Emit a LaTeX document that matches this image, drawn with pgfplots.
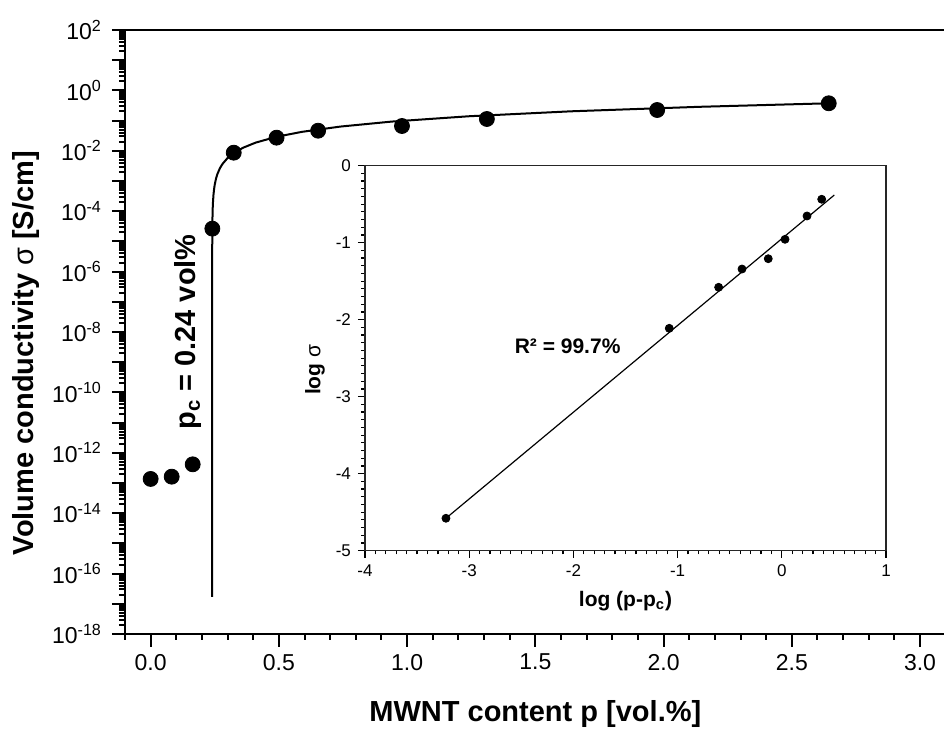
\documentclass[border=0pt]{standalone}
\usepackage{fontspec}
\setmainfont{Liberation Sans}
\usepackage{pgfplots}
\pgfplotsset{compat=1.18}
\gdef\minorlist{2e-18}
\foreach \e in {-18,...,1}{\foreach \m in {2,...,9}{\xdef\minorlist{\minorlist,\m e\e}}}
\begin{document}
\begin{tikzpicture}
\begin{axis}[
  at={(0,0)}, anchor=south west,
  scale only axis, width=410.35pt, height=302pt,
  xmin=-0.1, xmax=3.1,
  ymode=log, ymin=1e-18, ymax=1e2,
  axis line style={line width=1.3pt},
  tick align=outside, tick pos=left,
  major tick length=6.5pt, minor tick length=3pt,
  every tick/.style={black, line width=1pt},
  xtick={0,0.5,1,1.5,2,2.5,3},
  xticklabels={0.0,0.5,1.0,1.5,2.0,2.5,3.0},
  minor xtick={-0.1,0.1,0.2,0.3,0.4,0.6,0.7,0.8,0.9,1.1,1.2,1.3,1.4,1.6,1.7,1.8,1.9,2.1,2.2,2.3,2.4,2.6,2.7,2.8,2.9},
  ytickten={-18,-17,...,2},
  yticklabels={10\textsuperscript{-18},,10\textsuperscript{-16},,10\textsuperscript{-14},,10\textsuperscript{-12},,10\textsuperscript{-10},,10\textsuperscript{-8},,10\textsuperscript{-6},,10\textsuperscript{-4},,10\textsuperscript{-2},,10\textsuperscript{0},,10\textsuperscript{2}},
  minor ytick/.expanded={\minorlist},
  ticklabel style={font=\fontsize{11.5}{13}\selectfont},
  yticklabel style={xshift=-1.5pt},
  xlabel={\textbf{MWNT content p [vol.\%]}},
  ylabel={\textbf{Volume conductivity \textnormal{σ} [S/cm]}},
  label style={font=\fontsize{14.5}{17}\selectfont},
  xlabel style={at={(axis description cs:0.5,-0.1325)}, anchor=center},
  ylabel style={at={(axis description cs:-0.1206,0.465)}, anchor=center},
  clip=false,
]
\addplot[black, line width=1pt] coordinates {
(0.24,1.7e-17)(0.2401,4.19e-6)(0.2403,1.45e-5)(0.2406,3.17e-5)(0.241,5.65e-5)
(0.242,1.24e-4)(0.243,1.95e-4)(0.245,3.48e-4)(0.2475,5.51e-4)(0.25,7.62e-4)
(0.255,1.21e-3)(0.26,1.67e-3)(0.27,2.64e-3)(0.28,3.65e-3)(0.30,5.77e-3)
(0.32,7.98e-3)(0.36,1.26e-2)(0.41,1.87e-2)(0.49,2.90e-2)(0.59,4.24e-2)
(0.74,6.34e-2)(0.94,9.27e-2)(1.24,0.139)(1.64,0.203)(2.14,0.286)(2.645,0.374)};
\addplot[only marks, mark=*, mark size=3.75pt, black] coordinates {
(0,1.36e-13)(0.082,1.62e-13)(0.164,4.15e-13)(0.2406,2.64e-5)(0.324,8.65e-3)
(0.491,2.72e-2)(0.653,4.63e-2)(0.980,6.62e-2)(1.311,0.113)(1.975,0.224)(2.644,0.374)};
\node[rotate=90, anchor=base, font=\fontsize{14.5}{17}\selectfont\bfseries] at (axis cs:0.175,1e-8) {p\textsubscript{c} = 0.24 vol\%};
\end{axis}
\begin{axis}[
  at={(120pt,41.65pt)}, anchor=south west,
  scale only axis, width=260.5pt, height=192.5pt,
  xmin=-4, xmax=1, ymin=-5, ymax=0,
  axis background/.style={fill=white},
  axis line style={line width=0.8pt, black!85},
  tick align=outside, tick pos=left,
  major tick length=3.5pt, minor tick length=1.8pt,
  every tick/.style={black, line width=0.6pt},
  xtick={-4,-3,-2,-1,0,1}, xticklabels={-4,-3,-2,-1,0,1},
  ytick={-5,-4,-3,-2,-1,0}, yticklabels={-5,-4,-3,-2,-1,0},
  minor x tick num=9, minor y tick num=9,
  ticklabel style={font=\fontsize{8.5}{10}\selectfont},
  xlabel={\textbf{log (p-p\textsubscript{c})}},
  ylabel={\textbf{log \textnormal{σ}}},
  label style={font=\fontsize{10.5}{12.5}\selectfont},
  xlabel style={at={(axis description cs:0.5,-0.131)}, anchor=center},
  ylabel style={at={(axis description cs:-0.096,0.47)}, anchor=center},
]
\addplot[black, line width=0.6pt] coordinates {(-3.223,-4.579)(0.504,-0.381)};
\addplot[only marks, mark=*, mark size=2pt, black] coordinates {
(-3.223,-4.579)(-1.080,-2.112)(-0.606,-1.579)(-0.382,-1.342)(-0.130,-1.208)(0.031,-0.956)(0.242,-0.653)(0.383,-0.436)};
\node[anchor=west, font=\fontsize{10.5}{12.5}\selectfont\bfseries] at (axis cs:-2.63,-2.35) {R² = 99.7\%};
\end{axis}
\pgfresetboundingbox
\path[use as bounding box] (-62.5pt,-48.5pt) rectangle (409.5pt,317pt);
\end{tikzpicture}
\end{document}
